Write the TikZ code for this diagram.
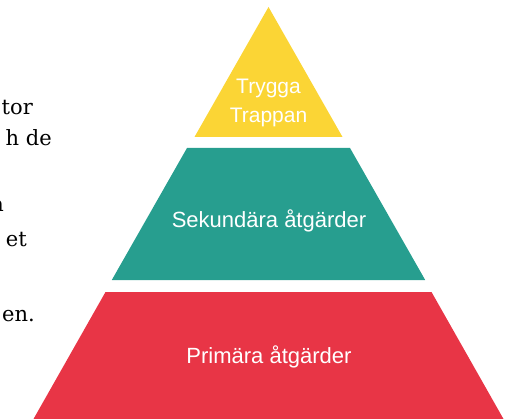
\documentclass[tikz,border=0pt]{standalone}
\usepackage{fontspec}
\newfontfamily\lagerfont{Liberation Sans}
\newfontfamily\brodfont{DejaVu Serif}
\definecolor{trappgul}{HTML}{FBD535}
\definecolor{sekgron}{HTML}{279E8F}
\definecolor{primrod}{HTML}{E83546}
\tikzset{
  brodtext/.style={anchor=base east, inner sep=0pt, text=black, font=\brodfont\fontsize{21}{30}\selectfont},
  lagertext/.style={anchor=base, inner sep=0pt, text=white, font=\lagerfont\fontsize{22}{26}\selectfont}
}
\begin{document}
\begin{tikzpicture}[x=1pt,y=-1pt]
    \useasboundingbox (0,0) rectangle (505,419);
    \clip (0,0) rectangle (505,419);

    %brodtext
    \node[brodtext] (rad1) at (33,115) {tor};
    \node[brodtext] (rad2) at (52,146) {h de};
    \node[brodtext] (rad3) at (4,212) {a};
    \node[brodtext] (rad4) at (27,247) {et};
    \node[brodtext] (rad5) at (35,321) {en.};

    %Trygga Trappan
    \fill[trappgul] (268.5,7) -- (342.5,137) -- (194.5,137) -- cycle;
    \node[lagertext, font=\lagerfont\fontsize{21}{26}\selectfont] (trygga) at (268.5,94) {Trygga};
    \node[lagertext, font=\lagerfont\fontsize{21}{26}\selectfont] (trappan) at (268.5,123) {Trappan};

    %sekundara
    \fill[sekgron] (187,148) -- (350,148) -- (425.2,280) -- (111.8,280) -- cycle;
    \node[lagertext] (sekundara) at (269,228) {Sekundära åtgärder};

    %primara
    \fill[primrod] (105.5,292) -- (431.5,292) -- (503.5,419) -- (33.5,419) -- cycle;
    \node[lagertext] (primara) at (269,363) {Primära åtgärder};
\end{tikzpicture}
\end{document}
